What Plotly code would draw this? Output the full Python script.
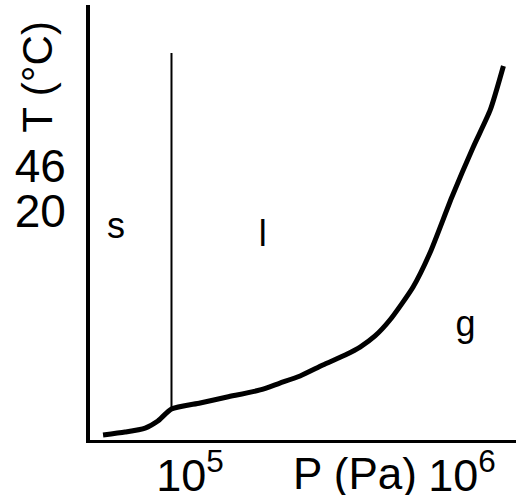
import plotly.graph_objects as go

# Liquid–gas / solid–gas boundary (pressure in Pa, temperature in °C)
boundary_P = [4.79e4, 5.77e4, 6.84e4, 7.62e4, 8.55e4, 1.09e5, 1.37e5, 1.81e5, 2.14e5,
              2.54e5, 3.08e5, 3.72e5, 4.22e5, 4.79e5, 5.43e5, 6.61e5, 7.62e5, 9.18e5,
              1.10e6, 1.27e6, 1.42e6]
boundary_T = [-109.4, -107.7, -105.4, -101.3, -94.4, -90.9, -87.5, -83.4, -79.4,
              -75.3, -69.0, -63.2, -58.6, -52.2, -43.0, -23.9, -4.3, 28.1,
              57.0, 78.4, 103.8]

# Solid–liquid boundary (vertical)
melt_P = [8.55e4, 8.55e4]
melt_T = [-94.4, 111.3]

# Region labels
region_text = ["s", "l", "g"]
region_P = [5.35e4, 1.85e5, 1.03e6]
region_T = [9.5, 5.0, -47.0]

# Tick labels
x_tickvals = [1e5, 1e6]
x_ticktext = ["10<sup>5</sup>", "10<sup>6</sup>"]
y_tickvals = [46, 20]
y_ticktext = ["46", "20"]

FONT = "Liberation Sans, Arial, sans-serif"

fig = go.Figure()
fig.add_trace(go.Scatter(x=melt_P, y=melt_T, mode="lines",
                         line=dict(color="black", width=2), hoverinfo="skip"))
fig.add_trace(go.Scatter(x=boundary_P, y=boundary_T, mode="lines",
                         line=dict(color="black", width=5, shape="spline", smoothing=0.6),
                         hoverinfo="skip"))
fig.add_trace(go.Scatter(x=region_P, y=region_T, mode="text", text=region_text,
                         textfont=dict(family=FONT, size=36, color="black"),
                         hoverinfo="skip"))

fig.update_layout(
    width=516, height=495,
    margin=dict(l=90, r=0, t=5, b=55, autoexpand=False),
    paper_bgcolor="white", plot_bgcolor="white",
    showlegend=False,
    font=dict(family=FONT, color="black"),
    xaxis=dict(type="log", range=[4.6324, 6.1985], showgrid=False, zeroline=False,
               showline=True, linecolor="black", linewidth=3, automargin=False,
               tickvals=x_tickvals, ticktext=x_ticktext, ticks="",
               tickfont=dict(family=FONT, size=45, color="black"),
               ticklabelstandoff=-6),
    yaxis=dict(range=[-112.31, 139.02], showgrid=False, zeroline=False,
               showline=True, linecolor="black", linewidth=4, automargin=False,
               tickvals=y_tickvals, ticktext=y_ticktext, ticks="",
               tickfont=dict(family=FONT, size=46, color="black"),
               ticklabelstandoff=11),
    annotations=[
        dict(text="T (°C)", textangle=-90, xref="paper", yref="paper",
             x=-0.122, y=0.835, xanchor="center", yanchor="middle",
             showarrow=False, font=dict(family=FONT, size=42, color="black")),
        dict(text="P (Pa)", xref="paper", yref="paper",
             x=0.623, y=-0.078, xanchor="center", yanchor="middle",
             showarrow=False, font=dict(family=FONT, size=44, color="black")),
    ],
)

fig.write_html("out.html", config={"displayModeBar": False},
               post_script="document.body.style.margin='0';document.body.style.overflow='hidden';")
